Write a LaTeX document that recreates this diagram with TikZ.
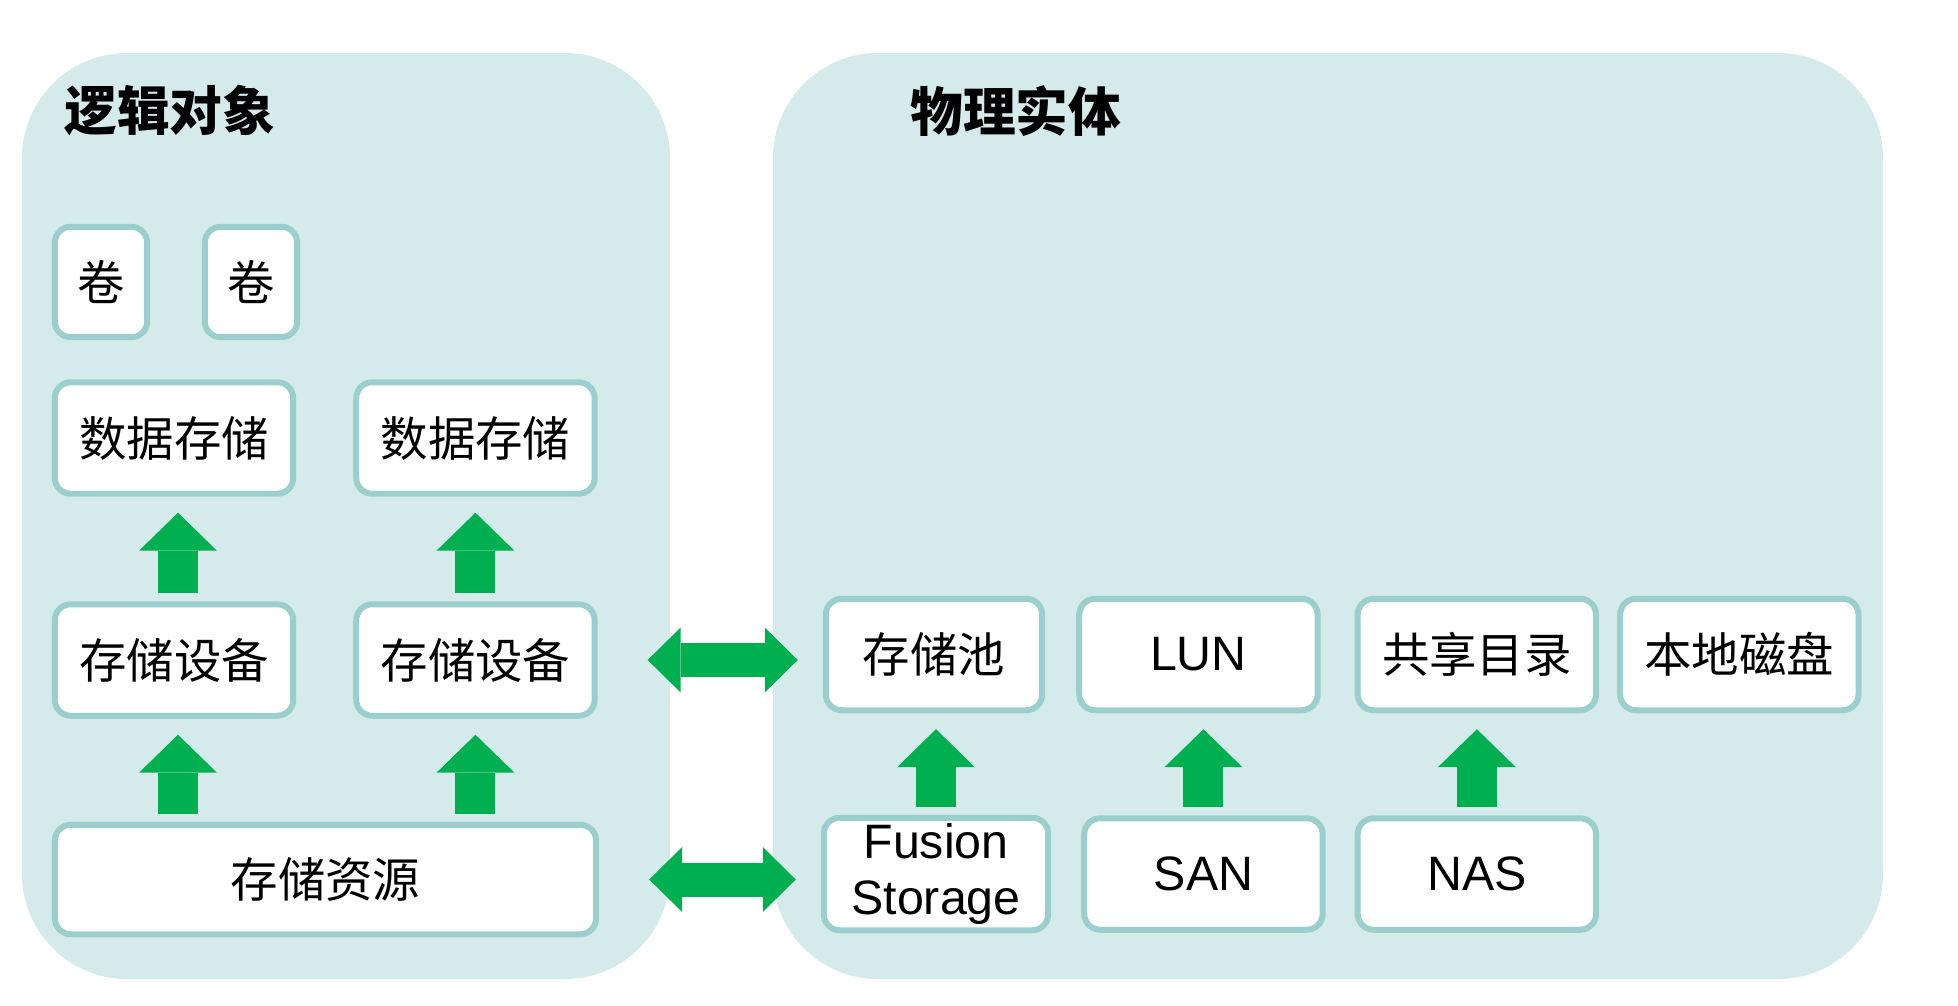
\documentclass[tikz,border=0pt]{standalone}
\usepackage{fontspec}
\setmainfont{Liberation Sans}
\newfontfamily\cjk{Noto Sans CJK SC}
\usepackage{xcolor}
\usetikzlibrary{positioning,arrows.meta}
\definecolor{panelfill}{HTML}{D5EBEB}
\definecolor{boxline}{HTML}{9BCFCD}
\definecolor{arrowgreen}{HTML}{00B050}

\begin{document}
\begin{tikzpicture}[x=0.02cm,y=-0.02cm,
		panel/.style={fill=panelfill,rounded corners=2.1cm},
		box/.style={draw=boxline,fill=white,line width=0.12cm,rounded corners=0.32cm,minimum width=4.77cm,minimum height=2.23cm,inner sep=0pt,font=\cjk\fontsize{27}{30}\selectfont},
		vol/.style={box,minimum width=1.85cm,minimum height=2.21cm},
		latin/.style={font=\fontsize{27.5}{32}\selectfont,align=center},
		title/.style={anchor=west,inner sep=0pt,font=\cjk\bfseries\fontsize{30}{34}\selectfont},
		uparrow/.style={arrowgreen,line width=0.8cm,-{Triangle[length=0.76cm,width=1.56cm,line width=0pt]},shorten <=0.16cm,shorten >=0.32cm},
		twoway/.style={arrowgreen,line width=0.68cm,{Triangle[length=0.66cm,width=1.3cm,line width=0pt]}-{Triangle[length=0.66cm,width=1.3cm,line width=0pt]},shorten <=1cm,shorten >=0.5cm}]
			\useasboundingbox (0,0) rectangle (1958,1005);
			% panels
			\fill[panel] (22,53) rectangle (670,979);
			\fill[panel] (773,53) rectangle (1883,979);
			\node[title] (logic) at (64,111) {逻辑对象};
			\node[title] (phys) at (910,111) {物理实体};

			% logical objects
			\node[vol] (vol1) at (101,282) {卷};
			\node[vol] (vol2) at (251,282) {卷};
			\node[box] (ds1) at (174,438) {数据存储};
			\node[box] (ds2) [right=1.14cm of ds1] {数据存储};
			\node[box] (dev1) at (174,660) {存储设备};
			\node[box] (dev2) [right=1.14cm of dev1] {存储设备};
			\node[box,minimum width=10.83cm,minimum height=2.19cm] (res) at (325.5,879.5) {存储资源};

			% physical entities
			\node[box,minimum width=4.33cm] (pool) at (934,654.5) {存储池};
			\node[box,latin] (lun) [right=0.62cm of pool] {LUN};
			\node[box] (share) [right=0.68cm of lun] {共享目录};
			\node[box] (disk) [right=0.36cm of share] {本地磁盘};
			\node[box,latin,minimum width=4.49cm,minimum height=2.25cm] (fusion) at (936,874) {Fusion\\Storage};
			\node[box,latin] (san) [right=0.6cm of fusion] {SAN};
			\node[box,latin] (nas) [right=0.58cm of san] {NAS};

			\draw[uparrow] ([xshift=0.08cm]dev1.north) -- ([xshift=0.08cm]ds1.south);
			\draw[uparrow] (dev2.north) -- (ds2.south);
			\draw[uparrow] ([xshift=0.08cm]res.north -| dev1) -- ([xshift=0.08cm]dev1.south);
			\draw[uparrow] (res.north -| dev2) -- (dev2.south);
			\draw[uparrow] (fusion.north) -- (fusion.north |- pool.south);
			\draw[uparrow] (san.north) -- (san.north |- lun.south);
			\draw[uparrow] (nas.north) -- (nas.north |- share.south);

			\draw[twoway] (dev2.east) -- (dev2.east -| pool.west);
			\draw[twoway] (res.east) -- (res.east -| fusion.west);
\end{tikzpicture}
\end{document}
